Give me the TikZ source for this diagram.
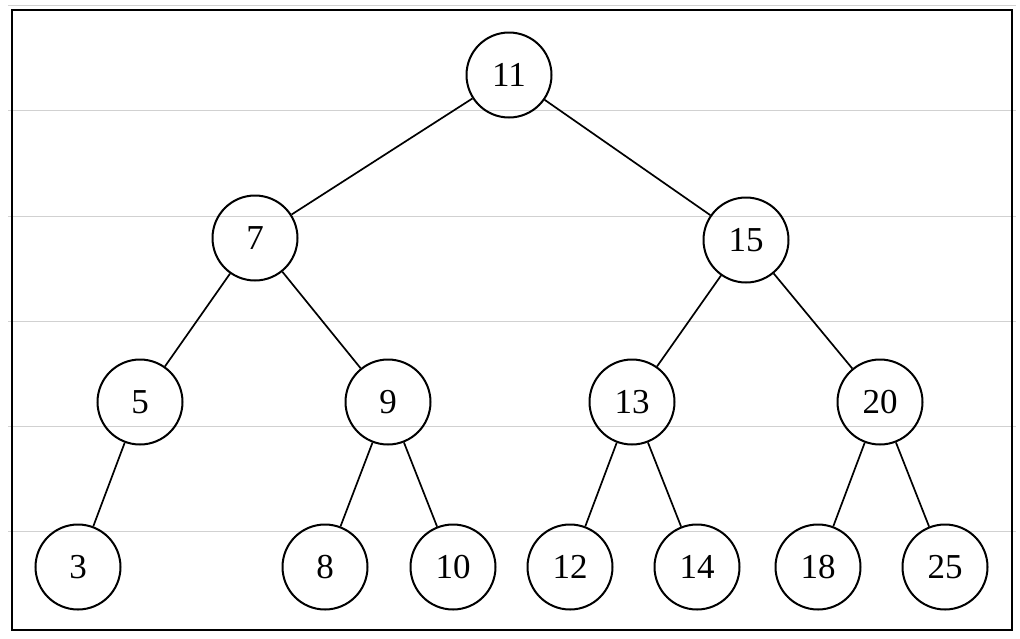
\documentclass[tikz,border=0pt]{standalone}
\usepackage{fontspec}
\setmainfont{Liberation Serif}
\begin{document}
\begin{tikzpicture}[x=1pt,y=-1pt,
  tn/.style={circle,draw,line width=2pt,minimum size=85pt,inner sep=0pt,font=\fontsize{35}{40}\selectfont},
  edge/.style={line width=1.7pt},
  rule/.style={draw=black!18,line width=1pt}]
\useasboundingbox (0,0) rectangle (1020,638);
\fill[white] (0,0) rectangle (1020,638);
\foreach \yy in {5,110,216,321,426,531}{\draw[rule] (8,\yy) -- (1016,\yy);}
\draw[line width=2.5pt] (12,10) rectangle (1012,630);
\node[tn] (n11) at (509,75) {11};
\node[tn] (n7) at (255,238) {7};
\node[tn] (n15) at (746,240) {15};
\node[tn] (n5) at (140,402) {5};
\node[tn] (n9) at (388,402) {9};
\node[tn] (n13) at (632,402) {13};
\node[tn] (n20) at (880,402) {20};
\node[tn] (n3) at (78,567) {3};
\node[tn] (n8) at (325,567) {8};
\node[tn] (n10) at (453,567) {10};
\node[tn] (n12) at (570,567) {12};
\node[tn] (n14) at (697,567) {14};
\node[tn] (n18) at (818,567) {18};
\node[tn] (n25) at (945,567) {25};
\foreach \a/\b in {n11/n7,n11/n15,n7/n5,n7/n9,n15/n13,n15/n20,n5/n3,n9/n8,n9/n10,n13/n12,n13/n14,n20/n18,n20/n25}
  {\draw[edge] (\a) -- (\b);}
\end{tikzpicture}
\end{document}
